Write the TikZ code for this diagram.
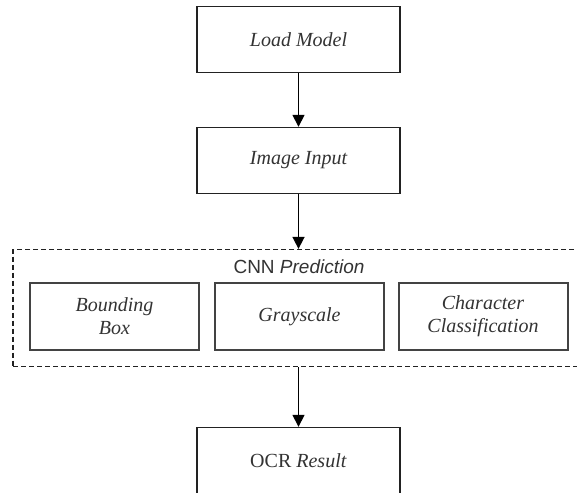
\documentclass[tikz,border=0pt]{standalone}
\usepackage{fontspec}
\setmainfont{Liberation Serif}
\setsansfont{Liberation Sans}
\usetikzlibrary{arrows.meta}
\definecolor{txt}{HTML}{333333}
\definecolor{ln}{HTML}{222222}
\tikzset{
  mainbox/.style={draw=ln, line width=1.4pt, minimum width=203pt, minimum height=66pt, inner sep=0pt, font=\fontsize{20}{23}\selectfont\itshape, text=txt, align=center},
  subbox/.style={draw=ln!85, line width=2pt, minimum width=169pt, minimum height=67pt, inner sep=0pt, font=\fontsize{20}{23}\selectfont\itshape, text=txt, align=center},
  groupbox/.style={draw=ln, line width=1.3pt, dash pattern=on 5pt off 3pt, minimum width=570pt, minimum height=117pt, inner sep=0pt},
  flow/.style={draw=black, line width=1.6pt, -{Triangle[length=12pt,width=12pt]}}
}
\begin{document}
\begin{tikzpicture}[x=1pt,y=-1pt]
\clip (0,0) rectangle (577,492);
\fill[white] (0,0) rectangle (577,492);
\node[mainbox] (lm) at (298.5,39.5) {Load Model};
\node[mainbox] (ii) at (298.5,160.5) {Image Input};
\node[groupbox] (cnn) at (298,308) {};
\node[font=\sffamily\fontsize{19}{22}\selectfont, text=txt] (cnnl) at (299,267) {CNN \textit{Prediction}};
\node[subbox] (bb) at (114.5,316.5) {Bounding\\Box};
\node[subbox] (gs) at (299.5,316.5) {Grayscale};
\node[subbox] (cc) at (483,316.5) {Character\\Classification};
\node[mainbox] (ocr) at (298.5,460.5) {\upshape OCR \textit{Result}};
\draw[flow] (lm.south) -- (ii.north);
\draw[flow] (ii.south) -- (ii.south |- cnn.north);
\draw[flow] (ii.south |- cnn.south) -- (ocr.north);
\end{tikzpicture}
\end{document}
